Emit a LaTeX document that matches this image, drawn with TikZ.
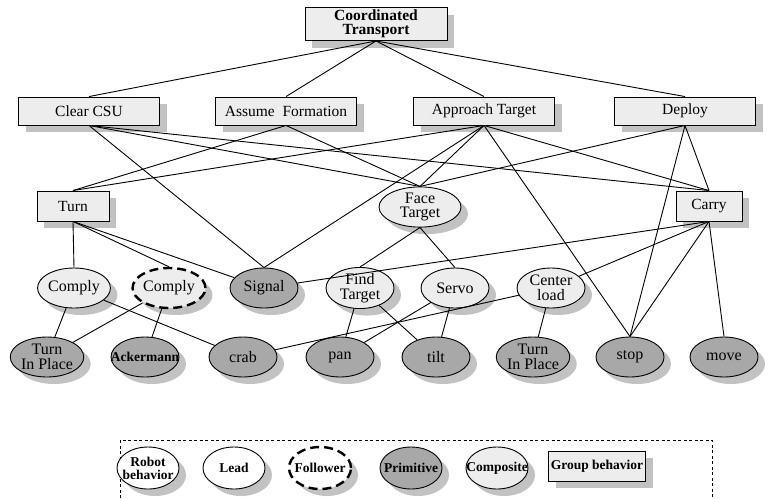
\documentclass[tikz,border=0pt]{standalone}
\usepackage{fontspec}
\setmainfont{Liberation Serif}
\usetikzlibrary{shapes.geometric,shadows}

\definecolor{boxfill}{HTML}{EDEDED}
\definecolor{primfill}{HTML}{A8A8A8}
\definecolor{shadegray}{HTML}{C2C2C2}

\newcommand{\wide}[1]{\makebox[0pt]{#1}}

\begin{document}
\begin{tikzpicture}[x=1pt, y=-1pt, every path/.style={line width=0.9pt},
    dropsh/.style={drop shadow={shadow xshift=7pt, shadow yshift=-7pt, fill=shadegray, opacity=1, draw=none}},
    grpbox/.style={draw, fill=boxfill, dropsh, inner sep=0pt, align=center, font=\fontsize{15.5}{14}\selectfont},
    comp/.style={ellipse, draw, fill=boxfill, dropsh, inner sep=0pt, minimum width=68pt, minimum height=40pt, align=center, font=\fontsize{16}{14.5}\selectfont},
    prim/.style={comp, fill=primfill},
    follow/.style={comp, line width=2.4pt, dash pattern=on 9pt off 5pt},
    keyitem/.style={ellipse, draw, fill=white, dropsh, inner sep=0pt, minimum width=62pt, minimum height=42pt, align=center, font=\bfseries\fontsize{13.5}{13}\selectfont}]
    \useasboundingbox (0,0) rectangle (775,498);
    % group behaviors
    \node[grpbox, minimum width=142pt, minimum height=33pt, font=\bfseries\fontsize{15.5}{14}\selectfont] (coord) at (376,24) {Coordinated\\Transport};
    \node[grpbox, minimum width=141pt, minimum height=28pt] (csu) at (89,111) {Clear CSU};
    \node[grpbox, minimum width=141pt, minimum height=28pt] (assume) at (286,111) {Assume\ \ Formation};
    \node[grpbox, minimum width=141pt, minimum height=28pt] (approach) at (484,111) {Approach Target};
    \node[grpbox, minimum width=141pt, minimum height=28pt] (deploy) at (685,111) {Deploy};
    \node[grpbox, minimum width=72pt, minimum height=30pt] (turn) at (73,206) {Turn};
    \node[comp, minimum width=82pt] (face) at (420,207) {Face\\Target};
    \node[grpbox, minimum width=66pt, minimum height=30pt] (carry) at (709,206) {Carry};
    % robot behaviors
    \node[comp] (comply) at (74,288) {Comply};
    \node[follow] (complyf) at (169,288) {Comply};
    \node[prim] (signal) at (264,288) {Signal};
    \node[comp] (find) at (360,288) {Find\\Target};
    \node[comp] (servo) at (455,288) {Servo};
    \node[comp] (center) at (551,288) {Center\\load};
    \node[prim] (tipa) at (47,357) {Turn\\In Place};
    \node[prim, font=\bfseries\fontsize{13.5}{13}\selectfont] (acker) at (145,357) {\wide{Ackermann}};
    \node[prim] (crab) at (243,357) {crab};
    \node[prim] (pan) at (340,357) {pan};
    \node[prim] (tilt) at (436,357) {tilt};
    \node[prim] (tipb) at (533,357) {Turn\\In Place};
    \node[prim] (stop) at (630,357) {stop};
    \node[prim] (move) at (724,357) {move};
    % links
    \foreach \a/\b in {coord/csu, coord/assume, coord/approach, coord/deploy,
                       csu/signal, csu/face, csu/carry, assume/turn, assume/face,
                       approach/turn, approach/signal, approach/face, approach/stop, approach/carry,
                       deploy/face, deploy/carry, deploy/stop,
                       turn/comply, turn/complyf, face/find, face/servo, carry/stop, carry/move} {
        \draw (\a.south) -- (\b.north);
    }
    \foreach \a/\b in {turn/signal, carry/signal, carry/center} {
        \draw (\a.south) -- (\b);
    }
    \foreach \a/\b in {comply/tipa, comply/crab, complyf/tipa, complyf/acker, find/pan, find/tilt,
                       servo/pan, servo/tilt, center/crab, center/tipb} {
        \draw (\a) -- (\b);
    }
    % key
    \draw[line width=0.7pt, dash pattern=on 3pt off 2.5pt] (120,498) -- (120,440) -- (712,440) -- (712,498);
    \node[keyitem] (krobot) at (148,468) {\wide{Robot}\\\wide{behavior}};
    \node[keyitem] (klead) at (234,468) {Lead};
    \node[keyitem, line width=2.4pt, dash pattern=on 9pt off 5pt] (kfollow) at (320,468) {\wide{Follower}};
    \node[keyitem, fill=primfill] (kprim) at (411,468) {\wide{Primitive}};
    \node[keyitem, fill=boxfill] (kcomp) at (497,468) {\wide{Composite}};
    \node[grpbox, minimum width=97pt, minimum height=30pt, font=\bfseries\fontsize{13.5}{12}\selectfont] (kgroup) at (597,466) {Group behavior};
\end{tikzpicture}
\end{document}
